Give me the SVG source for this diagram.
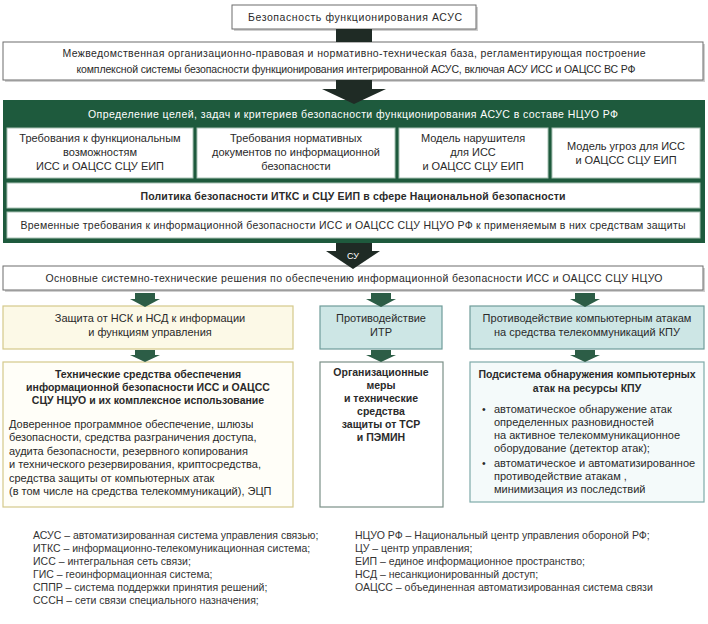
<svg xmlns="http://www.w3.org/2000/svg" width="708" height="624" viewBox="0 0 708 624">
<style>
  text { font-family: "Liberation Sans", Arial, sans-serif; fill: #2a2a2a; font-size: 10.5px; }
  .c { text-anchor: middle; }
  .b { font-weight: bold; }
  .w { fill: #ffffff; }
  .m { font-size: 11px; }
  .lg { font-size: 10.5px; fill: #333; }
  .gbox { fill: #ffffff; stroke: #6d6d6d; stroke-width: 1; }
  .shadow { fill: #cfcfcf; }
  .inner { fill: #ffffff; stroke: #a9c2b5; stroke-width: 1; }
  .darr { fill: #1f2b25; }
  .carr { fill: #2c5d46; }
  .yel { fill: #fcf9e7; stroke: #d4c98b; stroke-width: 1.2; }
  .yel2 { fill: #fffef8; stroke: #d4c98b; stroke-width: 1.2; }
  .blue { fill: #cde6e5; stroke: #6f9c99; stroke-width: 1.2; }
  .blue2 { fill: #f4fafa; stroke: #7eaaa9; stroke-width: 1.2; }
  .mid2 { fill: #ffffff; stroke: #7b8f87; stroke-width: 1.2; }
</style>

<g id="n-top">
  <rect class="shadow" x="234" y="7" width="244" height="24"/>
  <rect class="gbox" x="232" y="5" width="244" height="24"/>
  <text class="c" x="355" y="21" textLength="214">Безопасность функционирования АСУС</text>
</g>

<g id="n-base">
  <rect class="shadow" x="5" y="44" width="700" height="38"/>
  <rect class="gbox" x="3" y="42" width="700" height="38"/>
  <text class="c" x="354" y="57" textLength="583">Межведомственная организационно-правовая и нормативно-техническая база, регламентирующая построение</text>
  <text class="c" x="356" y="73" textLength="559">комплексной системы безопасности функционирования интегрированной АСУС, включая АСУ ИСС и ОАЦСС ВС РФ</text>
</g>

<g id="n-panel">
  <rect x="3" y="100" width="702" height="143" fill="#1e5a3d"/>
  <text class="c w" x="353" y="118" textLength="530">Определение целей, задач и критериев безопасности функционирования АСУС в составе НЦУО РФ</text>
</g>

<g id="n-req-func">
  <rect class="inner" x="7" y="128" width="186" height="50"/>
  <text class="c m" x="100" y="142">Требования к функциональным</text>
  <text class="c m" x="100" y="156">возможностям</text>
  <text class="c m" x="100" y="170">ИСС и ОАЦСС СЦУ ЕИП</text>
</g>
<g id="n-req-norm">
  <rect class="inner" x="197" y="128" width="198" height="50"/>
  <text class="c m" x="296" y="142">Требования нормативных</text>
  <text class="c m" x="296" y="156">документов по информационной</text>
  <text class="c m" x="296" y="170">безопасности</text>
</g>
<g id="n-intruder">
  <rect class="inner" x="399" y="128" width="149" height="50"/>
  <text class="c m" x="473" y="142">Модель нарушителя</text>
  <text class="c m" x="473" y="156">для ИСС</text>
  <text class="c m" x="473" y="170">и ОАЦСС СЦУ ЕИП</text>
</g>
<g id="n-threats">
  <rect class="inner" x="552" y="128" width="148" height="50"/>
  <text class="c m" x="626" y="150">Модель угроз для ИСС</text>
  <text class="c m" x="626" y="164">и ОАЦСС СЦУ ЕИП</text>
</g>
<g id="n-policy">
  <rect class="inner" x="7" y="183" width="693" height="25"/>
  <text class="c b" x="353" y="200" textLength="425">Политика безопасности ИТКС и СЦУ ЕИП в сфере Национальной безопасности</text>
</g>
<g id="n-temp">
  <rect class="inner" x="7" y="212" width="693" height="26"/>
  <text class="c" x="353" y="229" textLength="665">Временные требования к информационной безопасности ИСС и ОАЦСС СЦУ НЦУО РФ к применяемым в них средствам защиты</text>
</g>

<g id="n-main">
  <rect class="shadow" x="5" y="268" width="700" height="24"/>
  <rect class="gbox" x="3" y="266" width="700" height="24"/>
  <text class="c" x="354" y="282" textLength="617">Основные системно-технические решения по обеспечению информационной безопасности ИСС и ОАЦСС СЦУ НЦУО</text>
</g>

<g id="n-nsk">
  <rect class="yel" x="3" y="306" width="290" height="43"/>
  <text class="c m" x="150" y="322">Защита от НСК и НСД к информации</text>
  <text class="c m" x="150" y="336">и функциям управления</text>
</g>
<g id="n-itr">
  <rect class="blue" x="320" y="306" width="122" height="43"/>
  <text class="c m" x="381" y="322">Противодействие</text>
  <text class="c m" x="381" y="336">ИТР</text>
</g>
<g id="n-attacks">
  <rect class="blue" x="470" y="306" width="234" height="43"/>
  <text class="c m" x="587" y="322">Противодействие компьютерным атакам</text>
  <text class="c m" x="587" y="336">на средства телекоммуникаций КПУ</text>
</g>

<g id="n-tech">
  <rect class="yel2" x="3" y="362" width="290" height="145"/>
  <text class="c b" x="148" y="378">Технические средства обеспечения</text>
  <text class="c b" x="148" y="391">информационной безопасности ИСС и ОАЦСС</text>
  <text class="c b" x="148" y="404">СЦУ НЦУО и их комплексное использование</text>
  <text class="m" x="9" y="428">Доверенное программное обеспечение, шлюзы</text>
  <text class="m" x="9" y="441">безопасности, средства разграничения доступа,</text>
  <text class="m" x="9" y="455">аудита безопасности, резервного копирования</text>
  <text class="m" x="9" y="468">и технического резервирования, криптосредства,</text>
  <text class="m" x="9" y="482">средства защиты от компьютерных атак</text>
  <text class="m" x="9" y="495">(в том числе на средства телекоммуникаций), ЭЦП</text>
</g>
<g id="n-org">
  <rect class="mid2" x="320" y="362" width="123" height="145"/>
  <text class="c b" x="381" y="376">Организационные</text>
  <text class="c b" x="381" y="389">меры</text>
  <text class="c b" x="381" y="402">и технические</text>
  <text class="c b" x="381" y="415">средства</text>
  <text class="c b" x="381" y="428">защиты от ТСР</text>
  <text class="c b" x="381" y="441">и ПЭМИН</text>
</g>
<g id="n-detect">
  <rect class="blue2" x="470" y="362" width="234" height="140"/>
  <text class="c b" x="587" y="378">Подсистема обнаружения компьютерных</text>
  <text class="c b" x="587" y="392">атак на ресурсы КПУ</text>
  <text x="482" y="413" fill="#666">•</text>
  <text class="m" x="494" y="413">автоматическое обнаружение атак</text>
  <text class="m" x="494" y="426">определенных разновидностей</text>
  <text class="m" x="494" y="439">на активное телекоммуникационное</text>
  <text class="m" x="494" y="452">оборудование (детектор атак);</text>
  <text x="482" y="467" fill="#666">•</text>
  <text class="m" x="494" y="467">автоматическое и автоматизированное</text>
  <text class="m" x="494" y="480">противодействие атакам ,</text>
  <text class="m" x="494" y="493">минимизация из последствий</text>
</g>

<g id="legend">
  <text class="lg" x="33" y="539">АСУС – автоматизированная система управления связью;</text>
  <text class="lg" x="33" y="552">ИТКС – информационно-телекомуникационная система;</text>
  <text class="lg" x="33" y="565">ИСС – интегральная сеть связи;</text>
  <text class="lg" x="33" y="578">ГИС – геоинформационная система;</text>
  <text class="lg" x="33" y="591">СППР – система поддержки принятия решений;</text>
  <text class="lg" x="33" y="604">СССН – сети связи специального назначения;</text>
  <text class="lg" x="355" y="539">НЦУО РФ – Национальный центр управления обороной РФ;</text>
  <text class="lg" x="355" y="552">ЦУ – центр управления;</text>
  <text class="lg" x="355" y="565">ЕИП – единое информационное пространство;</text>
  <text class="lg" x="355" y="578">НСД – несанкционированный доступ;</text>
  <text class="lg" x="355" y="591">ОАЦСС – объединенная автоматизированная система связи</text>
</g>

<g id="connectors">
  <rect class="darr" x="336" y="29" width="36" height="13"/>
  <polygon class="darr" points="336,80 372,80 372,89 386,89 354,104 322,89 336,89"/>
  <polygon class="darr" points="336,243 372,243 372,251 380,251 353,269 326,251 336,251"/>
  <text class="c w" x="353" y="259" style="font-size:9px">СУ</text>
  <polygon class="carr" points="135,293 155,293 155,299 160,299 145,307 130,299 135,299"/>
  <polygon class="carr" points="371,293 391,293 391,299 396,299 381,307 366,299 371,299"/>
  <polygon class="carr" points="575,293 595,293 595,299 600,299 585,307 570,299 575,299"/>
  <polygon class="carr" points="135,350 155,350 155,355 160,355 145,362 130,355 135,355"/>
  <polygon class="carr" points="371,350 391,350 391,355 396,355 381,362 366,355 371,355"/>
  <polygon class="carr" points="575,350 595,350 595,355 600,355 585,362 570,355 575,355"/>
</g>
</svg>
